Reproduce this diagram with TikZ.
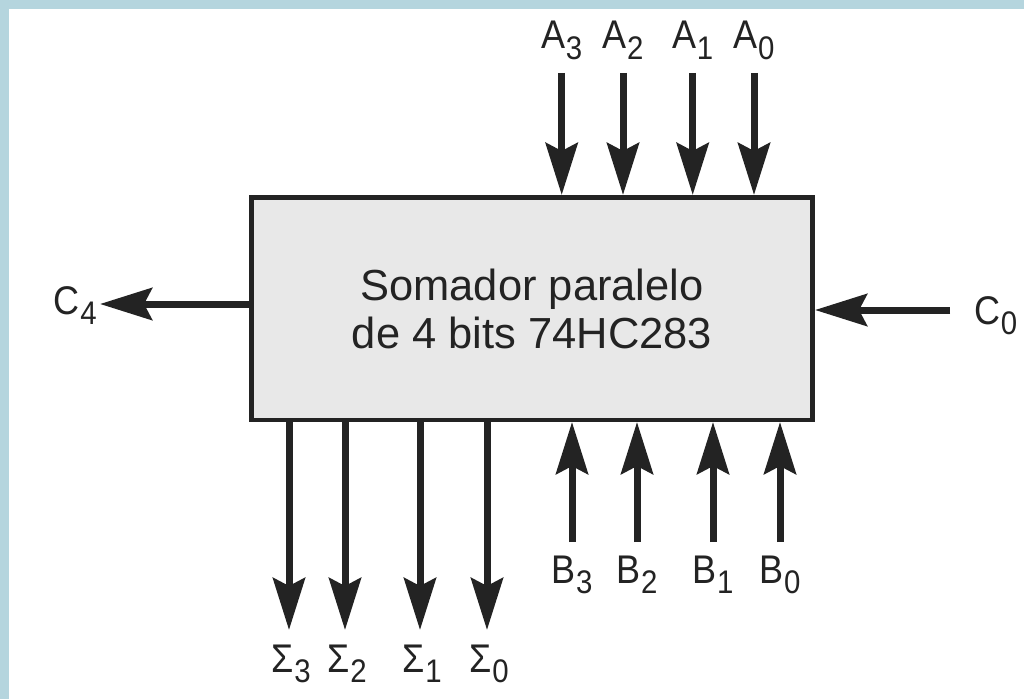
\documentclass[tikz,border=0pt]{standalone}
\usepackage{fontspec}
\setmainfont{Liberation Sans}
\newfontfamily\lblfont[FakeStretch=0.9]{Liberation Sans}
\usetikzlibrary{arrows.meta}
\definecolor{bgblue}{RGB}{181,213,222}
\definecolor{boxfill}{RGB}{232,232,232}
\definecolor{ink}{RGB}{35,35,35}
\newcommand{\lbl}[2]{{\lblfont\fontsize{30}{36}\selectfont #1\kern0.5pt\raisebox{-7.9pt}{\fontsize{24.5}{28}\selectfont #2}}}
\begin{document}
\begin{tikzpicture}[x=0.75pt,y=-0.75pt,
  bus/.style={draw=ink,line width=5.25pt,-{Stealth[length=39pt,width=24pt,inset=6pt]}},
  lab/.style={inner sep=0pt,text=ink}]
\useasboundingbox (0,0) rectangle (1024,699);
\fill[bgblue] (0,0) rectangle (1024,699);
\fill[white] (9,9.5) rectangle (1024,699);
\node[draw=ink, fill=boxfill, line width=3.4pt, minimum width=421.1pt, minimum height=166.9pt,
  inner sep=0pt, align=center, font=\fontsize{32.6}{36}\selectfont, text=ink] (adder) at (532,308.5)
  {Somador paralelo\\de 4 bits 74HC283};
\foreach \x/\n in {561.7/3,623/2,692.7/1,754/0}{
  \coordinate (as\n) at (\x,73);
  \draw[bus] (as\n) -- (as\n |- adder.north);
  \node[lab,anchor=base] (alab\n) at (\x,48.5) {\lbl{A}{\n}};
}
\foreach \x/\n in {572/3,637/2,713/1,780/0}{
  \coordinate (bs\n) at (\x,542);
  \draw[bus] (bs\n) -- (bs\n |- adder.south);
  \node[lab,anchor=base] (blab\n) at (\x,583) {\lbl{B}{\n}};
}
\foreach \x/\n in {289/3,345/2,420/1,487/0}{
  \coordinate (se\n) at (\x,630);
  \draw[bus] (se\n |- adder.south) -- (se\n);
  \node[lab,anchor=base] (slab\n) at (\x+2,672) {\lbl{Σ}{\n}};
}
\coordinate (c4e) at (100,304);
\draw[bus] (adder.west |- c4e) -- (c4e);
\node[lab,anchor=base east] (c4lab) at (97,314) {\lbl{C}{4}};
\coordinate (c0s) at (950,310);
\draw[bus] (c0s) -- (c0s -| adder.east);
\node[lab,anchor=base west] (c0lab) at (974,324) {\lbl{C}{0}};
\end{tikzpicture}
\end{document}
